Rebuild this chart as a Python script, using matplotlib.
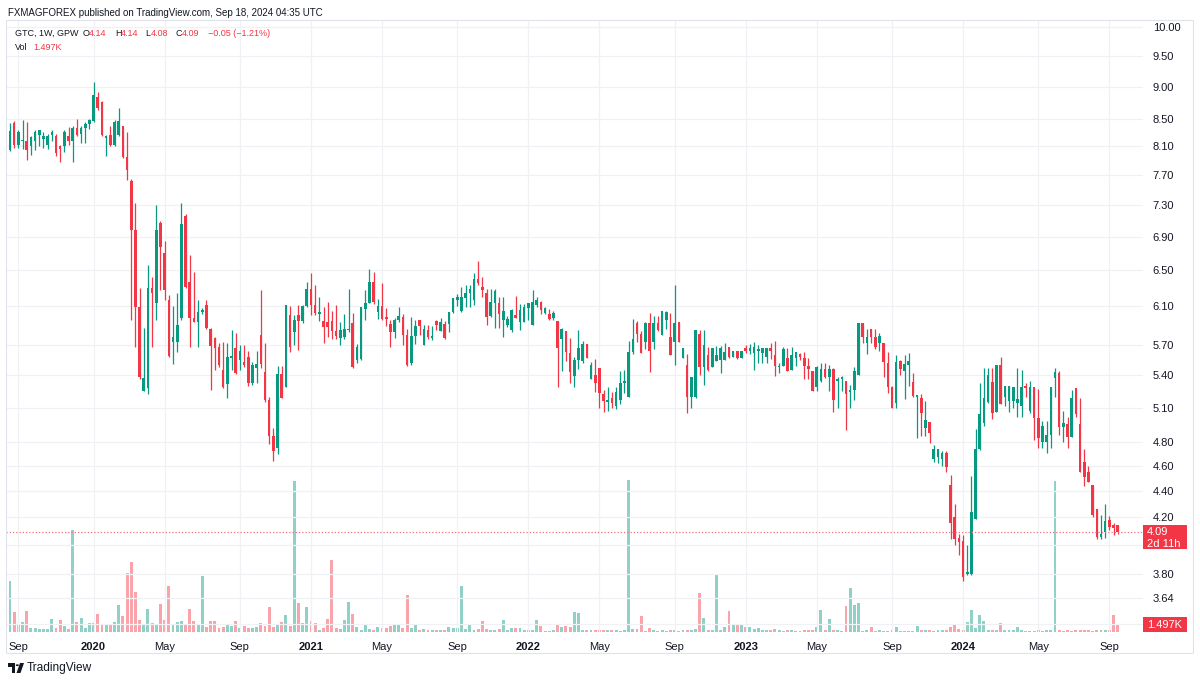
import numpy as np
import pandas as pd
import matplotlib
matplotlib.use("Agg")
import matplotlib.pyplot as plt
from matplotlib.patches import Rectangle, Circle, Polygon

# ── canvas / palette ────────────────────────────────────────────────────────────
W, H = 1200, 681
UP, DOWN = "#089981", "#F23645"
INK = "#131722"
GRID = "#F0F1F4"
BORDER = "#E0E3EB"

plt.rcParams.update({
    "font.family": ["Liberation Sans", "DejaVu Sans"],
    "axes.linewidth": 0,
})

# ── weekly GTC (GPW) data ──────────────────────────────────────────────────────
START = "2019-08-19"

opens = [
    8.04, 8.44, 8.12, 8.17, 8.18, 8.10, 8.18, 8.26, 8.20, 8.12, 8.26, 8.25, 8.10, 8.10, 8.25, 8.17,
    8.37, 8.27, 8.37, 8.42, 8.47, 8.83, 8.75, 8.22, 8.26, 8.12, 8.26, 8.39, 7.94, 7.62, 6.98, 6.09,
    5.25, 5.28, 6.30, 6.14, 7.07, 6.70, 6.17, 5.73, 5.73, 5.98, 7.16, 6.37, 5.98, 5.93, 6.04, 6.12,
    5.86, 5.77, 5.68, 5.45, 5.32, 5.57, 5.67, 5.55, 5.53, 5.58, 5.33, 5.47, 5.80, 5.43, 5.17, 4.85,
    4.75, 5.41, 5.29, 6.01, 5.83, 6.01, 5.94, 6.10, 6.29, 6.12, 6.02, 5.94, 5.93, 5.94, 5.84, 5.77,
    5.78, 5.85, 5.92, 5.55, 5.56, 6.07, 6.14, 6.37, 6.04, 6.10, 5.99, 5.91, 5.83, 5.96, 5.99, 5.80,
    5.52, 5.79, 5.95, 5.70, 5.85, 5.77, 5.94, 5.84, 5.91, 5.91, 6.04, 6.17, 6.05, 6.19, 6.25, 6.17,
    6.40, 6.31, 6.25, 6.00, 6.14, 6.14, 5.96, 5.90, 5.85, 6.01, 5.93, 5.93, 6.08, 5.90, 6.12, 6.15,
    6.03, 6.02, 5.98, 5.94, 5.76, 5.84, 5.62, 5.39, 5.55, 5.54, 5.71, 5.36, 5.40, 5.47, 5.22, 5.15,
    5.19, 5.11, 5.17, 5.33, 5.20, 5.63, 5.92, 5.81, 5.73, 5.92, 5.73, 5.92, 5.80, 5.96, 5.78, 5.73,
    5.93, 5.57, 5.50, 5.20, 5.20, 5.81, 5.48, 5.60, 5.48, 5.54, 5.55, 5.55, 5.68, 5.58, 5.64, 5.57,
    5.67, 5.64, 5.62, 5.64, 5.62, 5.58, 5.67, 5.60, 5.48, 5.49, 5.57, 5.45, 5.57, 5.61, 5.57, 5.49,
    5.44, 5.29, 5.35, 5.46, 5.38, 5.46, 5.35, 5.36, 5.35, 5.24, 5.26, 5.40, 5.92, 5.72, 5.86, 5.78,
    5.72, 5.72, 5.52, 5.29, 5.14, 5.54, 5.44, 5.50, 5.34, 5.20, 5.19, 4.92, 4.97, 4.66, 4.67, 4.66,
    4.71, 4.45, 4.20, 4.05, 4.03, 3.80, 3.80, 4.19, 4.74, 4.96, 5.15, 5.34, 5.06, 5.50, 5.20, 5.16,
    5.16, 5.14, 5.11, 5.30, 5.07, 5.29, 5.01, 4.80, 4.80, 4.86, 5.37, 5.42, 4.93, 4.95, 4.84, 5.28,
    4.95, 4.63, 4.55, 4.45, 4.26, 4.06, 4.09, 4.18, 4.14, 4.14,
]
highs = [
    8.44, 8.47, 8.33, 8.48, 8.46, 8.25, 8.33, 8.34, 8.30, 8.28, 8.33, 8.28, 8.12, 8.34, 8.38, 8.40,
    8.50, 8.40, 8.45, 8.50, 9.07, 8.92, 8.78, 8.26, 8.40, 8.48, 8.66, 8.40, 8.30, 7.64, 7.33, 6.30,
    5.87, 6.56, 6.43, 7.30, 7.10, 6.85, 6.22, 6.10, 6.25, 7.33, 7.18, 6.68, 6.48, 6.17, 6.08, 6.17,
    5.87, 5.78, 5.72, 5.73, 5.72, 5.85, 5.82, 5.70, 5.70, 5.64, 5.53, 5.64, 6.28, 5.72, 5.20, 4.92,
    5.49, 5.49, 6.12, 6.10, 6.01, 6.12, 6.12, 6.37, 6.47, 6.33, 6.20, 6.09, 6.15, 6.05, 6.12, 5.93,
    6.02, 6.29, 6.03, 5.71, 6.09, 6.28, 6.52, 6.48, 6.18, 6.36, 6.08, 5.95, 5.98, 6.09, 6.02, 5.86,
    5.99, 5.96, 5.96, 5.90, 5.90, 5.89, 5.95, 5.98, 5.94, 6.04, 6.19, 6.23, 6.31, 6.33, 6.33, 6.47,
    6.61, 6.43, 6.29, 6.29, 6.29, 6.20, 6.20, 6.00, 6.07, 6.21, 6.13, 6.13, 6.14, 6.28, 6.20, 6.16,
    6.09, 6.07, 6.05, 5.94, 5.87, 5.84, 5.77, 5.58, 5.85, 5.74, 5.71, 5.53, 5.56, 5.47, 5.26, 5.29,
    5.24, 5.29, 5.44, 5.45, 5.74, 5.97, 5.94, 5.84, 5.93, 6.03, 6.00, 6.00, 6.05, 6.05, 6.03, 6.33,
    5.93, 5.67, 5.61, 5.38, 5.85, 5.85, 5.85, 5.68, 5.67, 5.69, 5.69, 5.72, 5.68, 5.64, 5.64, 5.64,
    5.70, 5.71, 5.73, 5.70, 5.67, 5.67, 5.72, 5.74, 5.52, 5.68, 5.67, 5.68, 5.63, 5.62, 5.63, 5.57,
    5.44, 5.49, 5.52, 5.52, 5.50, 5.47, 5.38, 5.39, 5.35, 5.31, 5.48, 5.92, 5.92, 5.86, 5.86, 5.86,
    5.82, 5.72, 5.63, 5.30, 5.60, 5.55, 5.60, 5.62, 5.42, 5.21, 5.22, 5.16, 4.97, 4.77, 4.74, 4.72,
    4.72, 4.53, 4.30, 4.08, 4.07, 4.00, 4.52, 4.91, 5.33, 5.47, 5.47, 5.47, 5.50, 5.58, 5.30, 5.30,
    5.29, 5.47, 5.45, 5.33, 5.35, 5.29, 5.27, 4.98, 4.98, 5.29, 5.47, 5.44, 5.07, 5.02, 5.26, 5.28,
    5.19, 4.74, 4.60, 4.45, 4.26, 4.22, 4.30, 4.21, 4.16, 4.14,
]
lows = [
    8.03, 8.07, 8.07, 8.06, 7.91, 7.97, 8.04, 8.10, 8.08, 8.06, 8.18, 7.96, 7.88, 8.02, 8.12, 7.88,
    8.24, 8.15, 8.15, 8.35, 8.46, 8.64, 8.25, 7.96, 8.10, 8.10, 8.25, 7.93, 7.63, 5.96, 5.68, 5.36,
    5.25, 5.22, 5.68, 5.96, 6.28, 6.17, 5.58, 5.51, 5.63, 5.96, 6.30, 5.68, 5.93, 5.68, 6.02, 5.86,
    5.26, 5.45, 5.48, 5.28, 5.19, 5.45, 5.41, 5.45, 5.48, 5.30, 5.31, 5.33, 5.47, 5.15, 4.78, 4.64,
    4.70, 5.19, 5.29, 5.63, 5.70, 5.65, 5.92, 6.09, 6.01, 6.01, 5.94, 5.72, 5.78, 5.76, 5.76, 5.70,
    5.76, 5.83, 5.47, 5.52, 5.55, 5.95, 6.14, 6.13, 5.97, 5.96, 5.89, 5.68, 5.77, 5.93, 5.70, 5.49,
    5.50, 5.71, 5.80, 5.70, 5.76, 5.75, 5.85, 5.84, 5.76, 5.83, 6.03, 6.10, 6.04, 6.09, 6.09, 6.12,
    6.34, 6.20, 5.90, 5.99, 5.87, 5.87, 5.78, 5.88, 5.83, 5.98, 5.85, 5.93, 5.96, 5.90, 6.09, 6.02,
    6.02, 5.96, 5.95, 5.29, 5.44, 5.54, 5.33, 5.29, 5.46, 5.52, 5.57, 5.36, 5.24, 5.10, 5.06, 5.07,
    5.10, 5.09, 5.13, 5.23, 5.20, 5.61, 5.73, 5.62, 5.66, 5.43, 5.66, 5.84, 5.80, 5.86, 5.60, 5.50,
    5.73, 5.57, 5.05, 5.10, 5.19, 5.40, 5.31, 5.44, 5.48, 5.54, 5.42, 5.55, 5.57, 5.58, 5.56, 5.57,
    5.62, 5.61, 5.45, 5.52, 5.52, 5.52, 5.56, 5.39, 5.42, 5.49, 5.44, 5.45, 5.49, 5.55, 5.36, 5.36,
    5.25, 5.25, 5.34, 5.37, 5.25, 5.06, 5.10, 5.25, 4.90, 5.10, 5.17, 5.40, 5.72, 5.61, 5.72, 5.66,
    5.64, 5.38, 5.23, 5.10, 5.10, 5.40, 5.18, 5.30, 5.20, 4.83, 4.85, 4.85, 4.79, 4.63, 4.62, 4.60,
    4.55, 4.04, 4.00, 3.93, 3.75, 3.79, 3.79, 4.19, 4.73, 4.94, 5.14, 5.00, 5.06, 5.13, 5.11, 5.06,
    5.10, 5.02, 5.02, 5.20, 5.05, 4.82, 4.75, 4.75, 4.71, 4.75, 5.20, 4.86, 4.80, 4.75, 4.84, 5.02,
    4.55, 4.44, 4.47, 4.20, 4.04, 4.04, 4.05, 4.11, 4.07, 4.08,
]
closes = [
    8.32, 8.12, 8.31, 8.19, 8.04, 8.23, 8.31, 8.33, 8.24, 8.24, 8.30, 8.00, 8.06, 8.30, 8.18, 8.37,
    8.26, 8.37, 8.43, 8.48, 8.86, 8.66, 8.26, 8.24, 8.12, 8.45, 8.47, 7.94, 7.77, 6.98, 6.09, 5.38,
    5.37, 6.30, 6.25, 6.98, 6.77, 6.28, 5.59, 5.78, 5.90, 7.06, 6.31, 5.98, 5.93, 6.04, 6.06, 5.87,
    5.69, 5.67, 5.50, 5.29, 5.58, 5.58, 5.42, 5.64, 5.50, 5.33, 5.50, 5.51, 5.51, 5.17, 4.85, 4.72,
    5.41, 5.19, 6.12, 5.68, 5.95, 5.94, 6.10, 6.29, 6.12, 6.03, 6.04, 5.88, 5.88, 5.84, 5.79, 5.85,
    5.86, 5.86, 5.48, 5.68, 6.09, 6.14, 6.37, 6.15, 6.10, 5.97, 5.97, 5.83, 5.96, 6.00, 5.80, 5.50,
    5.79, 5.89, 5.89, 5.86, 5.78, 5.78, 5.90, 5.93, 5.77, 6.04, 6.19, 6.20, 6.20, 6.25, 6.29, 6.40,
    6.36, 6.28, 5.99, 6.15, 6.27, 6.02, 6.05, 5.97, 6.06, 5.98, 6.06, 6.09, 6.14, 6.15, 6.17, 6.06,
    6.08, 5.97, 6.03, 5.67, 5.86, 5.63, 5.43, 5.55, 5.67, 5.71, 5.57, 5.50, 5.33, 5.23, 5.16, 5.17,
    5.14, 5.24, 5.33, 5.34, 5.63, 5.76, 5.81, 5.62, 5.92, 5.64, 5.92, 5.85, 6.05, 6.04, 5.60, 5.92,
    5.73, 5.67, 5.20, 5.38, 5.85, 5.48, 5.70, 5.45, 5.67, 5.60, 5.67, 5.63, 5.58, 5.64, 5.57, 5.64,
    5.64, 5.67, 5.68, 5.65, 5.67, 5.67, 5.64, 5.49, 5.49, 5.66, 5.44, 5.60, 5.63, 5.58, 5.49, 5.46,
    5.25, 5.48, 5.46, 5.38, 5.46, 5.17, 5.36, 5.38, 5.22, 5.26, 5.44, 5.92, 5.78, 5.78, 5.78, 5.68,
    5.79, 5.53, 5.29, 5.10, 5.53, 5.46, 5.51, 5.54, 5.21, 5.21, 5.05, 4.99, 4.88, 4.74, 4.74, 4.71,
    4.59, 4.16, 4.04, 4.02, 3.78, 3.81, 4.24, 4.74, 5.04, 5.19, 5.40, 5.05, 5.50, 5.13, 5.30, 5.30,
    5.29, 5.18, 5.29, 5.28, 5.29, 5.01, 4.83, 4.94, 4.86, 5.29, 5.43, 4.93, 4.96, 4.84, 5.19, 5.04,
    4.55, 4.51, 4.47, 4.22, 4.06, 4.08, 4.17, 4.13, 4.12, 4.09,
]
volume_k = [
    10.85, 4.28, 1.43, 2.14, 4.43, 0.86, 0.86, 0.64, 0.64, 0.64, 2.85, 0.79, 2.50, 1.35, 0.64, 21.8,
    2.14, 3.00, 0.79, 1.99, 1.86, 3.79, 1.65, 1.65, 1.65, 2.14, 5.71, 3.36, 12.7, 14.9, 8.62, 2.63,
    1.43, 4.86, 1.86, 1.43, 5.93, 2.50, 9.84, 1.43, 2.14, 2.29, 1.71, 4.99, 2.29, 1.43, 11.9, 1.13,
    2.29, 2.29, 0.79, 1.07, 1.65, 1.35, 2.29, 0.79, 1.35, 0.79, 0.79, 1.01, 1.99, 1.35, 5.35, 1.07,
    1.78, 2.08, 3.64, 1.22, 32.2, 6.27, 1.86, 5.29, 2.29, 1.99, 0.43, 0.79, 2.78, 15.3, 0.79, 0.64,
    2.50, 6.42, 3.79, 1.13, 0.49, 1.43, 0.64, 0.49, 1.13, 0.79, 0.79, 1.35, 1.43, 1.78, 0.79, 7.98,
    0.79, 1.43, 0.43, 0.64, 0.43, 0.36, 0.36, 0.36, 0.36, 1.13, 0.79, 0.79, 9.84, 0.64, 1.65, 0.43,
    0.64, 2.29, 0.64, 0.36, 0.43, 0.64, 2.63, 0.36, 0.79, 0.79, 0.79, 0.36, 0.36, 0.43, 2.50, 1.22,
    0.21, 0.21, 0.36, 1.50, 1.07, 1.22, 1.07, 4.28, 4.13, 0.36, 0.36, 0.36, 0.36, 0.36, 0.36, 0.36,
    0.36, 0.43, 0.21, 0.36, 32.5, 0.64, 0.64, 3.49, 0.21, 0.79, 0.36, 0.21, 0.36, 0.21, 0.36, 0.36,
    0.21, 0.43, 0.36, 0.49, 0.64, 8.28, 3.00, 0.36, 0.36, 12.1, 0.36, 1.07, 4.43, 1.50, 1.78, 1.65,
    1.07, 1.07, 0.64, 0.79, 0.43, 0.36, 0.36, 0.64, 0.43, 0.21, 0.36, 0.36, 0.21, 0.21, 0.49, 0.36,
    0.36, 1.13, 4.64, 0.43, 2.85, 0.43, 0.36, 0.21, 5.50, 9.48, 5.78, 6.14, 0.21, 0.36, 1.01, 0.21,
    0.36, 0.21, 0.21, 0.36, 1.01, 0.21, 0.21, 0.21, 0.21, 1.35, 0.36, 0.36, 0.36, 0.21, 0.36, 0.43,
    0.49, 1.07, 1.50, 0.71, 0.49, 2.08, 4.64, 0.86, 3.70, 2.29, 0.36, 0.36, 0.36, 1.86, 0.36, 0.36,
    0.36, 1.01, 0.36, 0.21, 0.21, 0.21, 0.36, 0.21, 0.36, 0.36, 32.2, 0.49, 0.21, 0.36, 0.21, 0.36,
    0.49, 0.36, 0.36, 0.21, 0.36, 0.49, 0.49, 0.36, 3.70, 1.497,
]

# price scale: every level gets a grid line, labels hidden under the two flags
price_ticks = [3.48, 3.64, 3.80, 4.00, 4.20, 4.40, 4.60, 4.80, 5.10, 5.40, 5.70, 6.10,
               6.50, 6.90, 7.30, 7.70, 8.10, 8.50, 9.00, 9.50, 10.00]
hidden_ticks = [3.48, 4.00]
tick_dates = ["2019-09-02", "2020-01-06", "2020-05-04", "2020-09-07", "2021-01-04",
              "2021-05-03", "2021-09-06", "2022-01-03", "2022-05-02", "2022-09-05",
              "2023-01-02", "2023-05-01", "2023-09-04", "2024-01-01", "2024-05-06",
              "2024-09-02"]
tick_labels = ["Sep", "2020", "May", "Sep", "2021", "May", "Sep", "2022", "May", "Sep",
               "2023", "May", "Sep", "2024", "May", "Sep"]

last_price = 4.09
last_vol_label = "1.497K"
countdown = "2d 11h"

header_top = "FXMAGFOREX published on TradingView.com, Sep 18, 2024 04:35 UTC"
legend_parts = [(15, "GTC, 1W, GPW", INK), (83, "O", INK), (89, "4.14", DOWN),
                (115, "H", INK), (120.5, "4.14", DOWN), (145.5, "L", INK),
                (151, "4.08", DOWN), (176, "C", INK), (182, "4.09", DOWN),
                (208, "\u22120.05 (\u22121.21%)", DOWN)]
vol_parts = [(15, "Vol", INK), (33, "1.497K", DOWN)]


def fx(px):
    return px / W


def fy(py):
    return 1 - py / H


# ── figure & axes ───────────────────────────────────────────────────────────────
fig = plt.figure(figsize=(W / 100, H / 100), dpi=100)
fig.patch.set_facecolor("white")
rect = [fx(6), fy(632), fx(1143) - fx(6), fy(20) - fy(632)]

ax_vol = fig.add_axes(rect, zorder=0)
ax = fig.add_axes(rect, zorder=1)
ax.patch.set_alpha(0)

n = len(closes)
xs = np.arange(n)
o = np.array(opens)
h = np.array(highs)
l = np.array(lows)
c = np.array(closes)
up = c >= o

# volume (bottom overlay)
vcol = np.where(up, UP, DOWN)
ax_vol.bar(xs, volume_k, width=0.7, color=vcol, alpha=0.45, linewidth=0)
ax_vol.set_ylim(0, max(volume_k) * 612 / 152)
ax_vol.set_xlim(-0.96, 271.05)
ax_vol.axis("off")

# candles
col = np.where(up, UP, DOWN)
ax.vlines(xs, l, h, colors=col, linewidth=0.9, zorder=3)
bottom = np.minimum(o, c)
height = np.maximum(np.abs(c - o), o * 0.0025)
ax.bar(xs, height, bottom=bottom, width=0.62, color=col, linewidth=0, zorder=4)

ax.set_yscale("log")
ax.set_ylim(3.4289, 10.1246)
ax.set_xlim(-0.96, 271.05)

# last price dotted line
ax.axhline(last_price, color="#F5707E", lw=0.9, ls=(0, (1, 1.6)), zorder=5)

# axes ticks
weeks = pd.date_range(START, periods=n, freq="7D")
tick_pos = weeks.get_indexer(pd.to_datetime(tick_dates))
ax.set_xticks(tick_pos)
ax.set_xticklabels(tick_labels)
for lab, txt in zip(ax.get_xticklabels(), tick_labels):
    lab.set_fontweight("bold" if txt.isdigit() else "normal")
ax.tick_params(axis="x", length=0, pad=7, labelsize=8, colors=INK)

ax.yaxis.tick_right()
ax.set_yticks(price_ticks)
ax.set_yticklabels(["" if t in hidden_ticks else f"{t:.2f}" for t in price_ticks])
ax.yaxis.set_minor_locator(matplotlib.ticker.NullLocator())
ax.tick_params(axis="y", which="both", length=0, pad=7, labelsize=8, colors=INK)

ax.grid(True, color=GRID, lw=0.9, zorder=0)
ax.set_axisbelow(True)

# ── price / volume flags on the right scale ─────────────────────────────────────
fig.canvas.draw()
y_last = ax.transData.transform((0, last_price))[1] / H       # figure fraction
box_h = 24 / H
fig.add_artist(Rectangle((fx(1143), y_last - 17 / H), fx(1187) - fx(1143), box_h,
                         transform=fig.transFigure, facecolor=DOWN, edgecolor="none",
                         zorder=10))
fig.text(fx(1147), y_last, f"{last_price:.2f}", color="white", fontsize=8,
         va="center", ha="left", zorder=11)
fig.text(fx(1147), y_last - 12 / H, countdown, color="white", fontsize=8,
         va="center", ha="left", zorder=11)

fig.add_artist(Rectangle((fx(1143), fy(632)), fx(1187) - fx(1143), 15 / H,
                         transform=fig.transFigure, facecolor=DOWN, edgecolor="none",
                         zorder=10))
fig.text(fx(1147), fy(624.5), last_vol_label, color="white", fontsize=8,
         va="center", ha="left", zorder=11)

# ── chart frame ─────────────────────────────────────────────────────────────────
fig.add_artist(Rectangle((fx(6), fy(653)), fx(1193) - fx(6), fy(20) - fy(653),
                         transform=fig.transFigure, facecolor="none",
                         edgecolor=BORDER, lw=0.8, zorder=2))

# ── header ──────────────────────────────────────────────────────────────────────
fig.text(fx(8), fy(13), header_top, fontsize=7.0, color=INK, va="center", ha="left")
for x, txt, colr in legend_parts:
    fig.text(fx(x), fy(33), txt, fontsize=6.5, color=colr, va="center", ha="left")
for x, txt, colr in vol_parts:
    fig.text(fx(x), fy(47), txt, fontsize=6.5, color=colr, va="center", ha="left")

# ── TradingView mark ────────────────────────────────────────────────────────────
fig.add_artist(Rectangle((fx(8), fy(667)), fx(15) - fx(8), 4 / H,
                         transform=fig.transFigure, facecolor=INK, edgecolor="none"))
fig.add_artist(Rectangle((fx(11.5), fy(673)), fx(15) - fx(11.5), 10 / H,
                         transform=fig.transFigure, facecolor=INK, edgecolor="none"))
fig.add_artist(Circle((fx(17.3), fy(665.2)), 1.6 / W, transform=fig.transFigure,
                      facecolor=INK, edgecolor="none"))
fig.add_artist(Polygon([(fx(20), fy(663)), (fx(24), fy(663)), (fx(20.5), fy(673)),
                        (fx(16.5), fy(673))], closed=True, transform=fig.transFigure,
                       facecolor=INK, edgecolor="none"))
fig.text(fx(27), fy(668), "TradingView", fontsize=8.6, color=INK, va="center", ha="left")

fig.savefig("out.png", dpi=100, facecolor="white")
